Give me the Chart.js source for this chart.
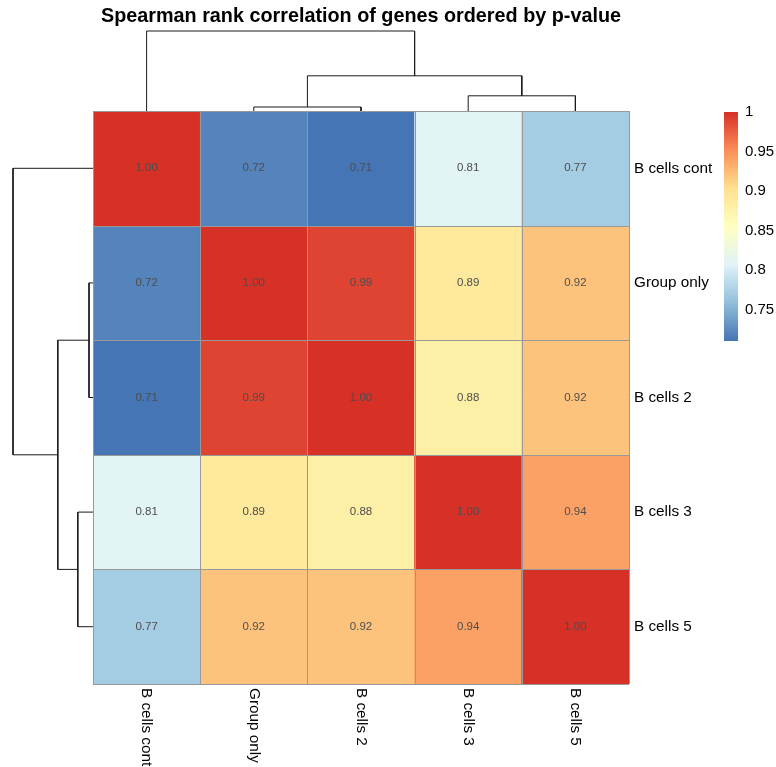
<!DOCTYPE html>
<html>
<head>
<meta charset="utf-8">
<script src="https://cdn.jsdelivr.net/npm/chart.js@4.4.1/dist/chart.umd.min.js"></script>
<style>
  html, body { margin: 0; padding: 0; background: #fff; }
  #wrap { position: relative; width: 776px; height: 767px; overflow: hidden; }
  #wrap canvas { position: absolute; }
</style>
</head>
<body>
<div id="wrap">
  <canvas id="heat" width="776" height="767" style="left:0;top:0"></canvas>
  <canvas id="dendTop" width="536" height="84" style="left:93px;top:28px"></canvas>
  <canvas id="dendLeft" width="86" height="573" style="left:8px;top:111px"></canvas>
  <canvas id="legend" width="76" height="250" style="left:724px;top:100px"></canvas>
</div>
<script>
const FONT = '"Liberation Sans", Arial, sans-serif';

const sampleNames = ['B cells cont', 'Group only', 'B cells 2', 'B cells 3', 'B cells 5'];
const rho = [
  [1.00, 0.72, 0.71, 0.81, 0.77],
  [0.72, 1.00, 0.99, 0.89, 0.92],
  [0.71, 0.99, 1.00, 0.88, 0.92],
  [0.81, 0.89, 0.88, 1.00, 0.94],
  [0.77, 0.92, 0.92, 0.94, 1.00]
];
// hclust style: negative = leaf (1-based), positive = earlier merge (1-based)
const mergePairs = [[-2, -3], [-4, -5], [1, 2], [-1, 3]];
const mergeHeights = [0.05, 0.19, 0.44, 1.0];
const legendTicks = [0.75, 0.8, 0.85, 0.9, 0.95, 1];
const paletteStops = ['#4575B4', '#91BFDB', '#E0F3F8', '#FFFFBF', '#FEE090', '#FC8D59', '#D73027'];

const allVals = rho.flat();
const vMin = Math.min(...allVals);
const vMax = Math.max(...allVals);

function hexRgb(h) {
  const n = parseInt(h.slice(1), 16);
  return [(n >> 16) & 255, (n >> 8) & 255, n & 255];
}
const stopRgb = paletteStops.map(hexRgb);

function colorFor(v) {
  const t = Math.max(0, Math.min(1, (v - vMin) / (vMax - vMin)));
  const p = t * (stopRgb.length - 1);
  const i = Math.min(Math.floor(p), stopRgb.length - 2);
  const f = p - i;
  const a = stopRgb[i], b = stopRgb[i + 1];
  const c = a.map((x, k) => Math.round(x + (b[k] - x) * f));
  return `rgb(${c[0]},${c[1]},${c[2]})`;
}

// --- heatmap: stacked unit bars, one dataset per row ---
const cellLabels = {
  id: 'cellLabels',
  afterDatasetsDraw(chart) {
    // cell borders on the category / row boundaries
    const { ctx, scales: { x, y } } = chart;
    const n = sampleNames.length;
    ctx.save();
    ctx.strokeStyle = '#999999';
    ctx.lineWidth = 1;
    ctx.beginPath();
    for (let i = 0; i <= n; i++) {
      const px = Math.round(x.getPixelForValue(i - 0.5)) + 0.5;
      ctx.moveTo(px, y.getPixelForValue(0));
      ctx.lineTo(px, y.getPixelForValue(n));
      const py = Math.round(y.getPixelForValue(i)) + 0.5;
      ctx.moveTo(x.getPixelForValue(-0.5), py);
      ctx.lineTo(x.getPixelForValue(n - 0.5), py);
    }
    ctx.stroke();
    ctx.restore();
  },
  afterDraw(chart) {
    const { ctx, scales: { x, y }, chartArea } = chart;
    ctx.save();
    ctx.textBaseline = 'middle';
    ctx.textAlign = 'center';
    ctx.font = `11.5px ${FONT}`;
    ctx.fillStyle = '#4D4D4D';
    rho.forEach((row, r) => {
      row.forEach((v, c) => {
        ctx.fillText(v.toFixed(2), x.getPixelForValue(c), y.getPixelForValue(r + 0.5));
      });
    });
    // row names on the right
    ctx.fillStyle = '#000';
    ctx.font = `15.3px ${FONT}`;
    ctx.textAlign = 'left';
    sampleNames.forEach((name, r) => {
      ctx.fillText(name, chartArea.right + 5, y.getPixelForValue(r + 0.5));
    });
    // column names, rotated to read downward
    sampleNames.forEach((name, c) => {
      ctx.save();
      ctx.translate(x.getPixelForValue(c), chartArea.bottom + 4);
      ctx.rotate(Math.PI / 2);
      ctx.fillText(name, 0, 0);
      ctx.restore();
    });
    // title
    ctx.font = `bold 19.8px ${FONT}`;
    ctx.textAlign = 'center';
    ctx.fillText('Spearman rank correlation of genes ordered by p-value',
      (chartArea.left + chartArea.right) / 2, 17);
    ctx.restore();
  }
};

new Chart(document.getElementById('heat'), {
  type: 'bar',
  plugins: [cellLabels],
  data: {
    labels: sampleNames,
    datasets: rho.map((row, r) => ({
      label: sampleNames[r],
      data: row.map(() => 1),
      backgroundColor: row.map(colorFor),
      borderWidth: 0,
      barPercentage: 1,
      categoryPercentage: 1
    }))
  },
  options: {
    responsive: false,
    animation: false,
    devicePixelRatio: 1,
    layout: { padding: { left: 93, top: 111, right: 147, bottom: 83 } },
    plugins: { legend: { display: false }, tooltip: { enabled: false } },
    scales: {
      x: { display: false, stacked: true },
      y: { display: false, stacked: true, reverse: true, min: 0, max: sampleNames.length }
    }
  }
});

// --- dendrograms built from the merge table ---
function dendroSegments() {
  const pos = [], height = [];
  const place = (id) => id < 0 ? [-id - 1, 0] : [pos[id - 1], height[id - 1]];
  return mergePairs.map((pair, k) => {
    const [xl, hl] = place(pair[0]);
    const [xr, hr] = place(pair[1]);
    const h = mergeHeights[k];
    pos.push((xl + xr) / 2);
    height.push(h);
    return [[xl, hl], [xl, h], [xr, h], [xr, hr]];
  });
}
const segs = dendroSegments();
const lineStyle = { showLine: true, borderColor: '#1a1a1a', borderWidth: 1, pointRadius: 0, clip: false, tension: 0 };
const hidden = { display: false };

new Chart(document.getElementById('dendTop'), {
  type: 'scatter',
  data: { datasets: segs.map(s => ({ ...lineStyle, data: s.map(([p, h]) => ({ x: p, y: h })) })) },
  options: {
    responsive: false, animation: false, devicePixelRatio: 1,
    layout: { padding: { top: 3, bottom: 1, left: 0, right: 0 } },
    plugins: { legend: hidden, tooltip: { enabled: false } },
    scales: {
      x: { ...hidden, type: 'linear', min: -0.5, max: sampleNames.length - 0.5 },
      y: { ...hidden, type: 'linear', min: 0, max: Math.max(...mergeHeights) }
    }
  }
});

new Chart(document.getElementById('dendLeft'), {
  type: 'scatter',
  data: { datasets: segs.map(s => ({ ...lineStyle, data: s.map(([p, h]) => ({ x: h, y: p })) })) },
  options: {
    responsive: false, animation: false, devicePixelRatio: 1,
    layout: { padding: { top: 0, bottom: 0, left: 5, right: 1 } },
    plugins: { legend: hidden, tooltip: { enabled: false } },
    scales: {
      x: { ...hidden, type: 'linear', reverse: true, min: 0, max: Math.max(...mergeHeights) },
      y: { ...hidden, type: 'linear', reverse: true, min: -0.5, max: sampleNames.length - 0.5 }
    }
  }
});

// --- colour key ---
function keyGradient(context) {
  const { chart } = context;
  const { chartArea, scales } = chart;
  if (!chartArea) return null;
  const y = scales.y;
  const g = chart.ctx.createLinearGradient(0, y.getPixelForValue(vMin), 0, y.getPixelForValue(vMax));
  paletteStops.forEach((c, i) => g.addColorStop(i / (paletteStops.length - 1), c));
  return g;
}

new Chart(document.getElementById('legend'), {
  type: 'bar',
  data: {
    labels: [''],
    datasets: [{ data: [[vMin, vMax]], backgroundColor: keyGradient, borderWidth: 0, barPercentage: 1, categoryPercentage: 1 }]
  },
  options: {
    responsive: false, animation: false, devicePixelRatio: 1,
    layout: { padding: { top: 12, bottom: 9, left: 0, right: 0 } },
    plugins: { legend: hidden, tooltip: { enabled: false } },
    scales: {
      x: hidden,
      y: {
        position: 'right',
        min: vMin,
        max: vMax,
        afterFit: (s) => { s.width = 62; s.paddingTop = 0; s.paddingBottom = 0; },
        afterBuildTicks: (s) => { s.ticks = legendTicks.map(v => ({ value: v })); },
        ticks: { padding: 7, color: '#000', font: { size: 15, family: FONT }, callback: (v) => String(v) },
        grid: { display: false, drawTicks: false },
        border: { display: false }
      }
    }
  }
});
</script>
</body>
</html>
